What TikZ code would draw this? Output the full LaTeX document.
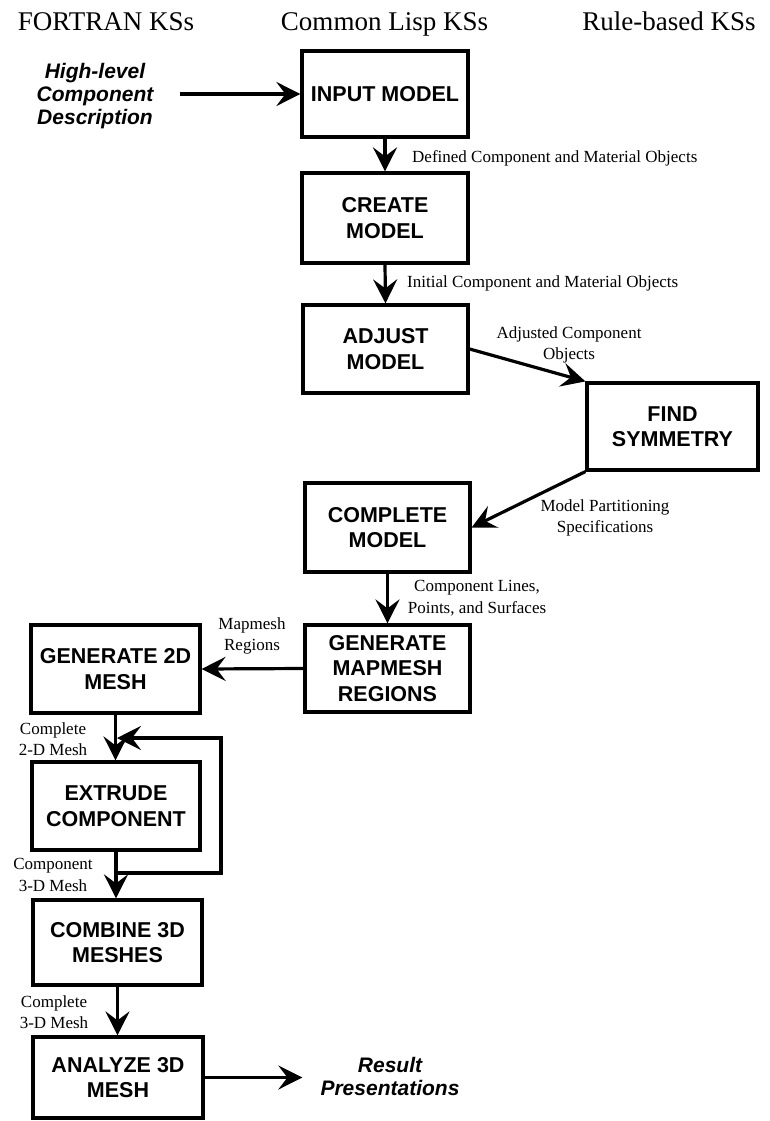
\documentclass[tikz,border=0pt]{standalone}
\usepackage{fontspec}
\setmainfont{Liberation Serif}
\setsansfont{Liberation Sans}
\usetikzlibrary{arrows.meta}
\tikzset{myhead/.tip={Stealth[length=24pt,width=24pt,inset=9pt]}}
\begin{document}
\begin{tikzpicture}[x=1pt,y=-1pt,
  box/.style={draw,line width=3.2pt,inner sep=0pt,align=center,font=\sffamily\bfseries\fontsize{21.5}{25.5}\selectfont},
  lbl/.style={inner sep=0pt,align=center,font=\fontsize{17}{21.5}\selectfont},
  hdr/.style={inner sep=0pt,anchor=base,font=\fontsize{27}{30}\selectfont},
  ital/.style={inner sep=0pt,align=center,font=\sffamily\bfseries\itshape\fontsize{21}{23}\selectfont},
  arr/.style={line width=3.2pt,-myhead},
  ln/.style={line width=3.2pt}]
\useasboundingbox (0,0) rectangle (769,1121);
% headers
\node[hdr] (hF) at (106,31) {FORTRAN KSs};
\node[hdr] (hC) at (384.5,31) {Common Lisp KSs};
\node[hdr] (hR) at (669,31) {Rule-based KSs};
% boxes
\node[box,minimum width=166pt,minimum height=86pt] (input) at (385,94) {INPUT MODEL};
\node[box,minimum width=166pt,minimum height=90pt] (create) at (385,218) {CREATE\\MODEL};
\node[box,minimum width=165pt,minimum height=88pt] (adjust) at (385.5,349) {ADJUST\\MODEL};
\node[box,minimum width=171pt,minimum height=87pt] (find) at (672.5,426.5) {FIND\\SYMMETRY};
\node[box,minimum width=165pt,minimum height=89pt] (complete) at (387.5,527.5) {COMPLETE\\MODEL};
\node[box,minimum width=165pt,minimum height=87pt] (genmap) at (387.5,668.5) {GENERATE\\MAPMESH\\REGIONS};
\node[box,minimum width=169pt,minimum height=88pt] (gen2d) at (115.5,669) {GENERATE 2D\\MESH};
\node[box,minimum width=168pt,minimum height=88pt] (extrude) at (116,806) {EXTRUDE\\COMPONENT};
\node[box,minimum width=169pt,minimum height=85pt] (combine) at (117.5,942.5) {COMBINE 3D\\MESHES};
\node[box,minimum width=170pt,minimum height=81pt] (analyze) at (118,1077.5) {ANALYZE 3D\\MESH};
% italic texts
\node[ital] (hl) at (95,96) {High-level\\Component\\Description};
\node[ital] (result) at (390,1076) {Result\\Presentations};
% labels
\node[lbl,anchor=west] (l1) at (412,158) {Defined Component and Material Objects};
\node[lbl,anchor=west] (l2) at (407,283) {Initial Component and Material Objects};
\node[lbl] (l3) at (569,345) {Adjusted Component\\Objects};
\node[lbl] (l4) at (605,518) {Model Partitioning\\Specifications};
\node[lbl] (l5) at (477,598) {Component Lines,\\Points, and Surfaces};
\node[lbl] (l6) at (252,636) {Mapmesh\\Regions};
\node[lbl] (l7) at (53,739) {Complete\\2-D Mesh};
\node[lbl] (l8) at (53,875) {Component\\3-D Mesh};
\node[lbl] (l9) at (54,1012) {Complete\\3-D Mesh};
% connectors
\draw[arr,shorten <=26pt] (hl.east |- input.west) -- (input.west);
\draw[arr] (input.south) -- (create.north);
\draw[arr] (create.south) -- (adjust.north);
\draw[arr] (adjust.east) -- (find.north west);
\draw[arr] (find.south west) -- (complete.east);
\draw[arr] (complete.south) -- (genmap.north);
\draw[arr] (genmap.west) -- (gen2d.east);
\draw[arr] (gen2d.south) -- (gen2d.south |- extrude.north);
\draw[arr] (extrude.south) -- (extrude.south |- combine.north);
\draw[arr] (combine.south) -- (combine.south |- analyze.north);
\draw[arr,shorten >=18pt] (analyze.east) -- (analyze.east -| result.west);
% feedback loop
\coordinate (lpA) at (116,873);
\coordinate (lpB) at (221,873);
\coordinate (lpC) at (221,738);
\coordinate (lpD) at (117,738);
\draw[arr,line join=miter] (lpA) -- (lpB) -- (lpC) -- (lpD);
\end{tikzpicture}
\end{document}
